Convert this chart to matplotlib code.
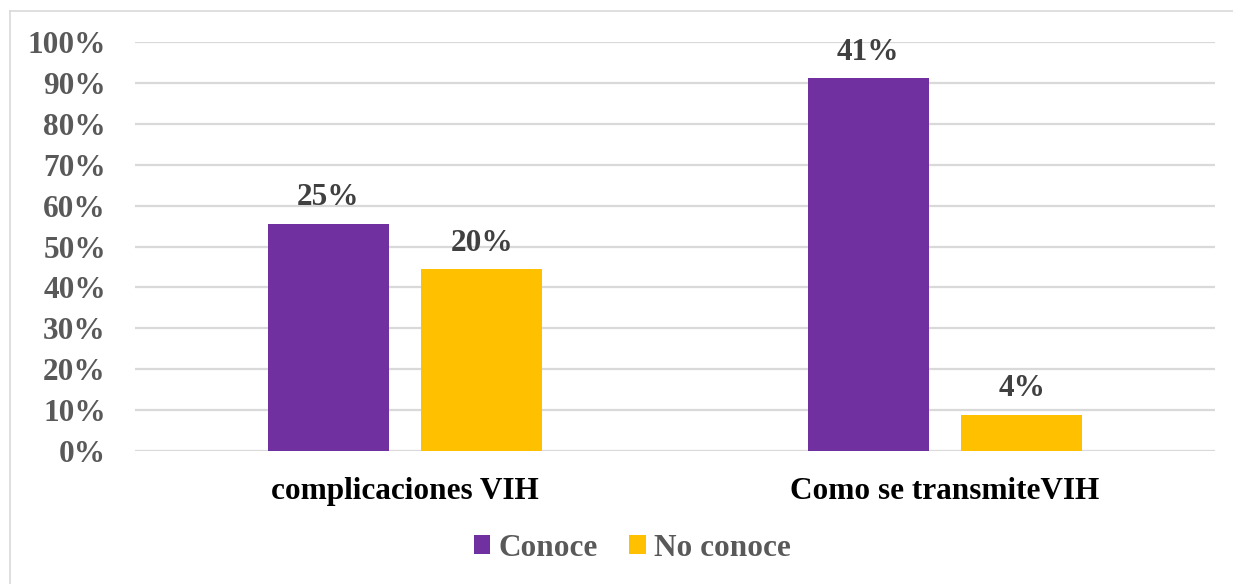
import matplotlib
matplotlib.use("Agg")
import matplotlib.pyplot as plt
from matplotlib.lines import Line2D
from matplotlib.patches import Patch

categories = ["complicaciones VIH", "Como se transmiteVIH"]
series_names = ["Conoce", "No conoce"]
# bar heights (share within each category, %)
conoce_heights = [55.6, 91.1]
noconoce_heights = [44.4, 8.9]
# data labels shown on bars
conoce_labels = ["25%", "41%"]
noconoce_labels = ["20%", "4%"]
yticks = [0, 10, 20, 30, 40, 50, 60, 70, 80, 90, 100]
ytick_labels = [f"{v}%" for v in yticks]

colors = ["#7030A0", "#FFC000"]
FONT = "Liberation Serif"
FS = 22.5

W, H = 1233, 584
fig = plt.figure(figsize=(W / 100, H / 100), dpi=100)
fig.patch.set_facecolor("white")

# chart border (top and left visible)
fig.add_artist(Line2D([10 / W, 10 / W], [0, 1 - 11 / H], transform=fig.transFigure,
                      color="#D9D9D9", lw=1.2))
fig.add_artist(Line2D([10 / W, 1], [1 - 11 / H, 1 - 11 / H], transform=fig.transFigure,
                      color="#D9D9D9", lw=1.2))

left, right = 135 / W, 1215 / W
bottom, top = 1 - 451 / H, 1 - 42 / H
ax = fig.add_axes([left, bottom, right - left, top - bottom])

x = list(range(len(categories)))
bw = 0.224
off = 0.1425
b1 = ax.bar([i - off for i in x], conoce_heights, bw, color=colors[0], zorder=3)
b2 = ax.bar([i + off for i in x], noconoce_heights, bw, color=colors[1], zorder=3)

for bars, labels in ((b1, conoce_labels), (b2, noconoce_labels)):
    for rect, lab in zip(bars, labels):
        ax.annotate(lab, (rect.get_x() + rect.get_width() / 2, rect.get_height()),
                    xytext=(0, 13.3), textcoords="offset points", ha="center",
                    va="baseline", fontsize=FS, fontweight="bold", family=FONT,
                    color="#404040")

ax.set_xlim(-0.5, 1.5)
ax.set_ylim(0, 100)
ax.set_yticks(yticks)
ax.set_yticklabels(ytick_labels, fontsize=FS, fontweight="bold", family=FONT,
                   color="#595959")
ax.tick_params(axis="y", length=0, pad=21)
ax.set_xticks([])
ax.grid(axis="y", color="#D9D9D9", lw=1.6, zorder=0)
for s in ax.spines.values():
    s.set_visible(False)

for i, c in zip(x, categories):
    ax.text(i, -0.117, c, transform=ax.get_xaxis_transform(), ha="center",
            va="baseline", fontsize=FS, fontweight="bold", family=FONT, color="black")

handles = [Patch(facecolor=colors[0]), Patch(facecolor=colors[1])]
fig.legend(handles, series_names, loc="center", bbox_to_anchor=(632.5 / W, 1 - 548 / H),
           ncol=2, frameon=False, handlelength=0.52, handleheight=0.52,
           handletextpad=0.28, columnspacing=1.0,
           prop={"family": FONT, "weight": "bold", "size": FS},
           labelcolor="#595959")

fig.savefig("out.png", dpi=100)
